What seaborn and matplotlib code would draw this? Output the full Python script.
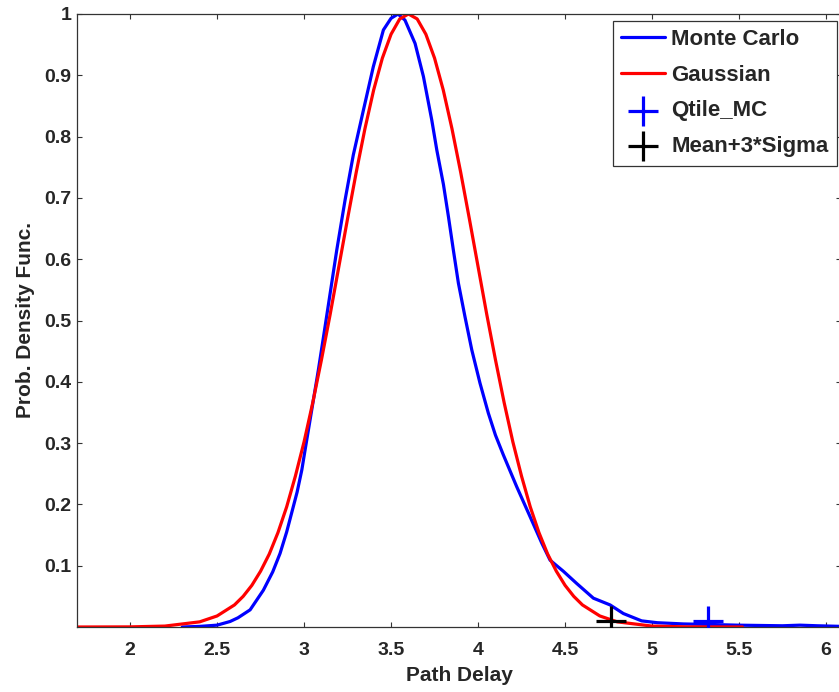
import matplotlib
matplotlib.use("Agg")
import matplotlib.pyplot as plt
import seaborn as sns

# ---- data ----
mc_x = [2.30, 2.40, 2.50, 2.575, 2.62, 2.69, 2.766, 2.82, 2.862, 2.90, 2.96,
        2.987, 3.006, 3.044, 3.082, 3.111, 3.146, 3.188, 3.236, 3.283, 3.341, 3.398,
        3.456, 3.50, 3.54, 3.58, 3.638, 3.686, 3.734, 3.763, 3.801, 3.830, 3.858,
        3.887, 3.925, 3.964, 4.011, 4.059, 4.10, 4.145, 4.222, 4.299, 4.366, 4.414,
        4.49, 4.567, 4.663, 4.759, 4.835, 4.94, 5.03, 5.18, 5.35, 5.49, 5.75, 5.85,
        5.95, 6.09]
mc_y = [0.0, 0.001, 0.003, 0.009, 0.015, 0.028, 0.060, 0.09, 0.12, 0.155, 0.22,
        0.256, 0.289, 0.354, 0.419, 0.472, 0.537, 0.615, 0.697, 0.770, 0.843, 0.914,
        0.974, 0.993, 1.0, 0.99, 0.952, 0.898, 0.827, 0.778, 0.722, 0.669, 0.615,
        0.561, 0.506, 0.452, 0.398, 0.349, 0.313, 0.281, 0.229, 0.18, 0.137, 0.109,
        0.091, 0.071, 0.047, 0.036, 0.022, 0.010, 0.007, 0.005, 0.004, 0.003, 0.002,
        0.003, 0.002, 0.001]

gauss_x = [1.70, 2.00, 2.20, 2.40, 2.50, 2.60, 2.65, 2.70, 2.75, 2.80, 2.85, 2.90,
           2.95, 3.00, 3.05, 3.10, 3.15, 3.20, 3.25, 3.30, 3.35, 3.40, 3.45, 3.50,
           3.55, 3.60, 3.65, 3.70, 3.75, 3.80, 3.85, 3.90, 3.95, 4.00, 4.05, 4.10,
           4.15, 4.20, 4.25, 4.30, 4.35, 4.40, 4.45, 4.50, 4.55, 4.60, 4.70, 4.80,
           5.00, 5.20, 5.52]
gauss_y = [0.0, 0.0002, 0.0015, 0.0084, 0.018, 0.036, 0.050, 0.068, 0.091, 0.119,
           0.154, 0.196, 0.246, 0.302, 0.366, 0.436, 0.510, 0.588, 0.666, 0.742,
           0.813, 0.876, 0.928, 0.967, 0.992, 1.0, 0.992, 0.967, 0.928, 0.876, 0.813,
           0.742, 0.666, 0.588, 0.510, 0.436, 0.366, 0.302, 0.246, 0.196, 0.154,
           0.119, 0.091, 0.068, 0.050, 0.036, 0.018, 0.0084, 0.0015, 0.0002, 0.0]

qtile_x = [5.32]
qtile_y = [0.0098]
m3s_x = [4.764]
m3s_y = [0.0102]

x_ticks = [2, 2.5, 3, 3.5, 4, 4.5, 5, 5.5, 6]
x_tick_labels = ["2", "2.5", "3", "3.5", "4", "4.5", "5", "5.5", "6"]
y_ticks = [0.1, 0.2, 0.3, 0.4, 0.5, 0.6, 0.7, 0.8, 0.9, 1.0]
y_tick_labels = ["0.1", "0.2", "0.3", "0.4", "0.5", "0.6", "0.7", "0.8", "0.9", "1"]

sns.set_theme(style="white")
plt.rcParams["font.family"] = ["Liberation Sans", "DejaVu Sans"]
plt.rcParams["font.weight"] = "bold"

W, H = 839, 692
fig = plt.figure(figsize=(W / 100, H / 100), dpi=100)
ax = fig.add_axes([77 / W, (H - 627) / H, (841 - 77) / W, (627 - 14) / H])

sns.lineplot(x=mc_x, y=mc_y, color="#0000ff", lw=2.3, ax=ax, label="Monte Carlo",
             estimator=None, sort=False)
sns.lineplot(x=gauss_x, y=gauss_y, color="#ff0000", lw=2.3, ax=ax, label="Gaussian",
             estimator=None, sort=False)
sns.scatterplot(x=qtile_x, y=qtile_y, marker="+", s=440, color="#0000ff",
                linewidth=2.3, ax=ax, label="Qtile_MC", zorder=5)
sns.scatterplot(x=m3s_x, y=m3s_y, marker="+", s=440, color="#000000",
                linewidth=2.3, ax=ax, label="Mean+3*Sigma", zorder=5)

ax.set_xlim(1.695, 6.086)
ax.set_ylim(0, 1)
ax.set_xticks(x_ticks)
ax.set_xticklabels(x_tick_labels, fontsize=14, fontweight="bold")
ax.set_yticks(y_ticks)
ax.set_yticklabels(y_tick_labels, fontsize=14, fontweight="bold")
ax.tick_params(axis="both", direction="in", length=3.8, width=0.8, color="#333333",
               top=True, right=True, bottom=True, left=True)
ax.tick_params(axis="x", pad=11)
ax.tick_params(axis="y", pad=4)
for sp in ax.spines.values():
    sp.set_visible(True)
    sp.set_color("#333333")
    sp.set_linewidth(0.9)

ax.set_xlabel("Path Delay", fontsize=15, fontweight="bold", labelpad=5)
ax.set_ylabel("Prob. Density Func.", fontsize=15, fontweight="bold", labelpad=7)

leg = ax.legend(loc="upper right", bbox_to_anchor=(836.7 / W, 1 - 20.7 / H),
                bbox_transform=fig.transFigure, borderaxespad=0, fancybox=False,
                frameon=True, edgecolor="#333333", framealpha=1,
                prop={"size": 16, "weight": "bold"}, handlelength=2.0,
                handletextpad=0.25, labelspacing=0.66, borderpad=0.38,
                scatterpoints=1)
leg.get_frame().set_linewidth(0.9)
ax.grid(False)

fig.savefig("out.png", dpi=100)
